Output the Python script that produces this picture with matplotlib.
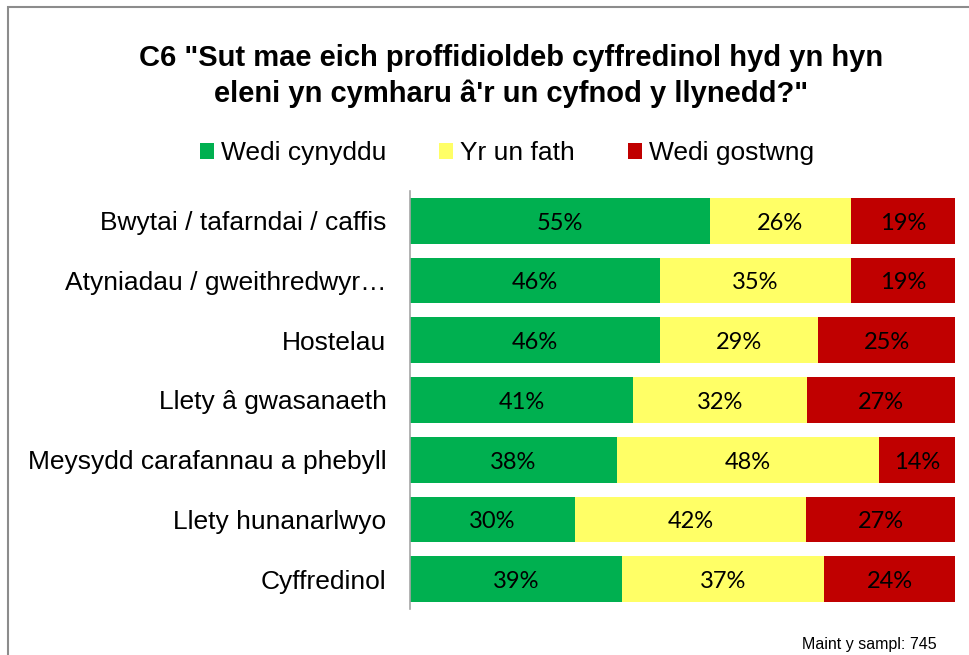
import matplotlib
matplotlib.use("Agg")
import matplotlib.pyplot as plt
from matplotlib.patches import Rectangle

# data (percent of respondents)
categories = [
    "Bwytai / tafarndai / caffis",
    "Atyniadau / gweithredwyr…",
    "Hostelau",
    "Llety â gwasanaeth",
    "Meysydd carafannau a phebyll",
    "Llety hunanarlwyo",
    "Cyffredinol",
]
increased = [55.0, 45.9, 45.9, 40.9, 38.0, 30.3, 38.9]
same = [25.9, 35.0, 29.0, 31.9, 48.1, 42.4, 37.1]
decreased = [19.1, 19.1, 25.1, 27.2, 13.9, 27.3, 24.0]

series_names = ["Wedi cynyddu", "Yr un fath", "Wedi gostwng"]
colors = ["#00B050", "#FFFF66", "#C00000"]

fig = plt.figure(figsize=(9.69, 6.55), dpi=100)
ax = fig.add_axes([410 / 969, 1 - 609 / 655, 545 / 969, 418 / 655])

y = list(range(len(categories)))
left = [0.0] * len(categories)
for vals, name, col in zip([increased, same, decreased], series_names, colors):
    ax.barh(y, vals, left=left, height=0.765, color=col, label=name,
            edgecolor="none")
    for yi, l, v in zip(y, left, vals):
        ax.text(l + v / 2, yi + 0.04, f"{round(v)}%", ha="center", va="center",
                fontsize=17, family="Lato", color="black")
    left = [a + b for a, b in zip(left, vals)]

ax.set_xlim(0, 100)
ax.set_ylim(len(categories) - 0.5, -0.5)
ax.set_yticks(y)
ax.set_yticklabels(categories, fontsize=19, family="Liberation Sans")
ax.tick_params(axis="y", length=0, pad=17)
ax.set_xticks([])
for s in ["top", "right", "bottom"]:
    ax.spines[s].set_visible(False)
ax.spines["left"].set_color("#A6A6A6")
ax.spines["left"].set_linewidth(1.2)

fig.text(0.527, 1 - 58 / 655, 'C6 "Sut mae eich proffidioldeb cyffredinol hyd yn hyn',
         ha="center", va="center", fontsize=21, fontweight="bold",
         family="Liberation Sans")
fig.text(0.527, 1 - 94 / 655, 'eleni yn cymharu â\'r un cyfnod y llynedd?"',
         ha="center", va="center", fontsize=21, fontweight="bold",
         family="Liberation Sans")

handles, labels = ax.get_legend_handles_labels()
fig.legend(handles, labels, loc="center", bbox_to_anchor=(0.523, 1 - 153 / 655),
           ncol=3, frameon=False, handlelength=0.55, handleheight=0.55,
           handletextpad=0.25, columnspacing=2.0,
           prop={"family": "Liberation Sans", "size": 19})

fig.text(937 / 969, 1 - 645 / 655, "Maint y sampl: 745", ha="right", va="center",
         fontsize=11.5, family="Liberation Sans")

# outer chart border (only top and left visible in the crop)
fig.patches.append(Rectangle((7.5 / 969, -0.1), 1.2, 1.1 - 6.5 / 655,
                             transform=fig.transFigure, fill=False,
                             edgecolor="#8C8C8C", linewidth=1.5))

fig.savefig("out.png", dpi=100)
